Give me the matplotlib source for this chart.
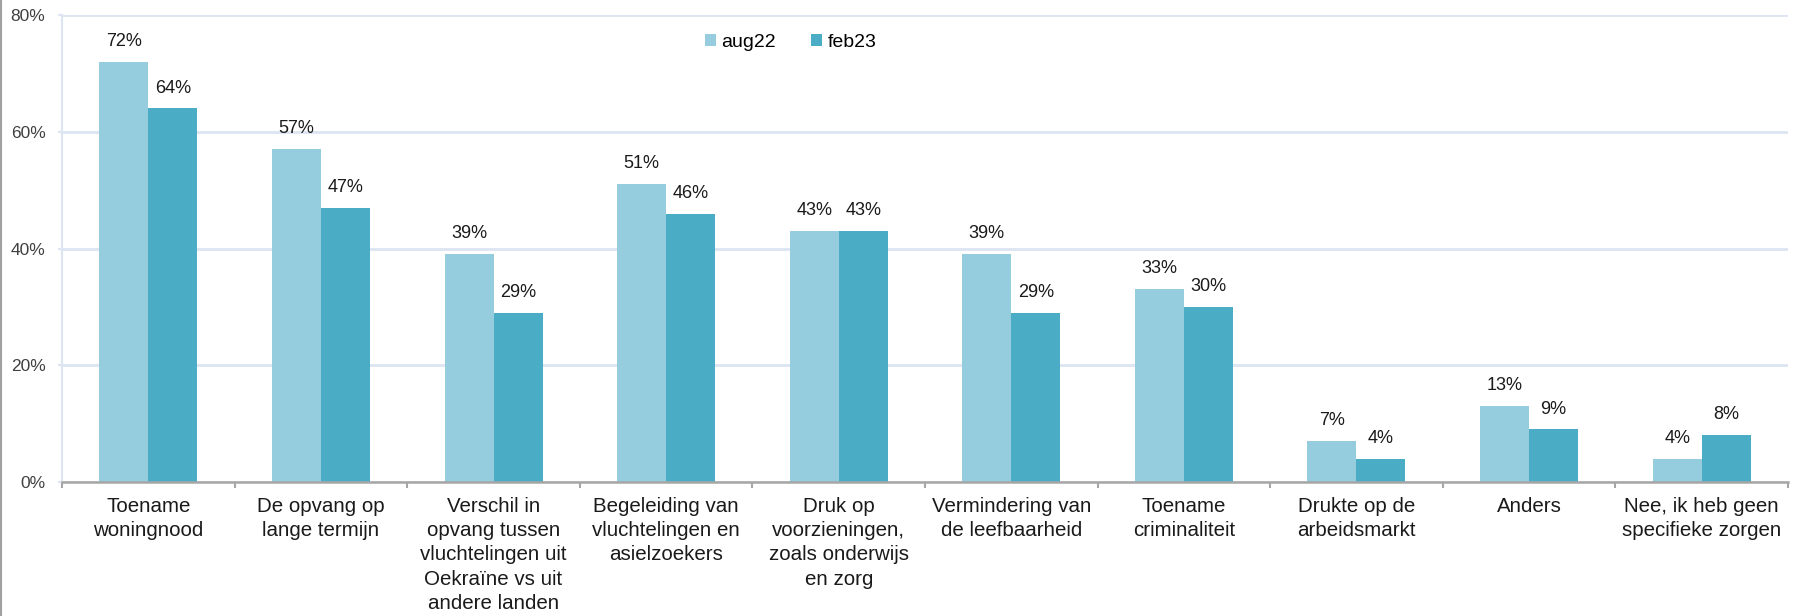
import numpy as np
import matplotlib.pyplot as plt
from matplotlib.lines import Line2D

plt.rcParams['font.family'] = ['Liberation Sans', 'DejaVu Sans']

categories = [
    'Toename\nwoningnood',
    'De opvang op\nlange termijn',
    'Verschil in\nopvang tussen\nvluchtelingen uit\nOekraïne vs uit\nandere landen',
    'Begeleiding van\nvluchtelingen en\nasielzoekers',
    'Druk op\nvoorzieningen,\nzoals onderwijs\nen zorg',
    'Vermindering van\nde leefbaarheid',
    'Toename\ncriminaliteit',
    'Drukte op de\narbeidsmarkt',
    'Anders',
    'Nee, ik heb geen\nspecifieke zorgen',
]
aug22 = [72, 57, 39, 51, 43, 39, 33, 7, 13, 4]
feb23 = [64, 47, 29, 46, 43, 29, 30, 4, 9, 8]
yticks = [0, 20, 40, 60, 80]

c_light = '#95CDDE'
c_dark = '#4BACC6'
grid_c = '#DCE5F1'

fig = plt.figure(figsize=(18.04, 6.16), dpi=100)
ax = fig.add_axes([0.0344, 0.2175, 0.9567, 0.758])

x = np.arange(len(categories))
w = 0.284
b1 = ax.bar(x - w / 2, aug22, w, color=c_light, label='aug22', zorder=3)
b2 = ax.bar(x + w / 2, feb23, w, color=c_dark, label='feb23', zorder=3)

for bars, vals in [(b1, aug22), (b2, feb23)]:
    for r, v in zip(bars, vals):
        ax.annotate(f'{v}%', (r.get_x() + r.get_width() / 2, v),
                    xytext=(0, 11.5), textcoords='offset points',
                    ha='center', va='baseline', fontsize=13, color='#1a1a1a')

ax.set_xlim(-0.5, len(categories) - 0.5)
ax.set_ylim(0, 80)
ax.set_yticks(yticks)
ax.set_yticklabels([f'{t}%' for t in yticks], fontsize=12.5, color='#404040')
ax.yaxis.grid(True, color=grid_c, linewidth=2, zorder=0)
ax.tick_params(axis='y', length=3, width=1.5, color=grid_c, pad=9)

# category boundaries as major ticks, names on minor ticks
ax.set_xticks(np.arange(len(categories) + 1) - 0.5)
ax.set_xticklabels([])
ax.set_xticks(x, minor=True)
ax.set_xticklabels(categories, minor=True, fontsize=14.8, color='#1a1a1a',
                   linespacing=1.34, va='top')
ax.tick_params(axis='x', which='major', length=4, width=1.5, color='#A6A6A6')
ax.tick_params(axis='x', which='minor', length=0, pad=11)

for s in ['top', 'right']:
    ax.spines[s].set_visible(False)
ax.spines['left'].set_color(grid_c)
ax.spines['left'].set_linewidth(1.5)
ax.spines['bottom'].set_color('#A6A6A6')
ax.spines['bottom'].set_linewidth(1.8)
ax.spines['bottom'].set_zorder(4)

ax.legend(loc='center', bbox_to_anchor=(0.422, 0.942), ncol=2, frameon=False,
          fontsize=14, handlelength=0.6, handleheight=0.6,
          handletextpad=0.25, columnspacing=1.8)

# gray frame line at the left edge of the picture
fig.add_artist(Line2D([0.0008, 0.0008], [0, 1], transform=fig.transFigure,
                      color='#A0A0A0', linewidth=1.5))

fig.savefig('out.png', dpi=100)
